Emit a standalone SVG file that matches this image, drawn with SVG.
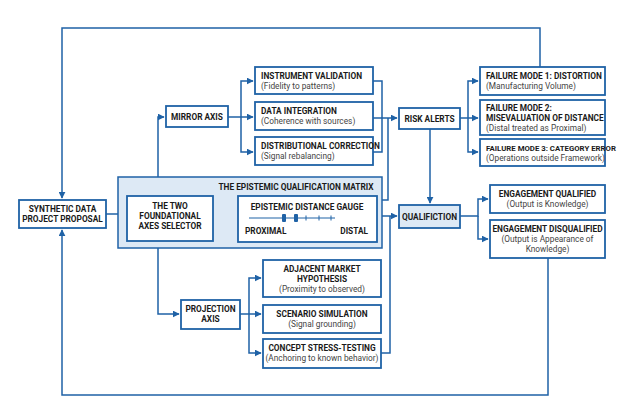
<svg xmlns="http://www.w3.org/2000/svg" width="624" height="419" viewBox="0 0 624 419">
<style>
.b{fill:#fff;stroke:#1f62a6;stroke-width:1.8}
.m{fill:#dde9f5;stroke:#1f62a6;stroke-width:1.5}
.c{fill:none;stroke:#1f62a6;stroke-width:1.5}
.t{font-family:Roboto,"Liberation Sans",sans-serif;font-weight:bold;font-size:8.3px;fill:#1a1a1a}
.s{font-family:Roboto,"Liberation Sans",sans-serif;font-size:8.3px;fill:#444}
.mid{text-anchor:middle}
</style>
<defs><marker id="a" viewBox="0 0 10 10" refX="9" refY="5" markerWidth="7" markerHeight="7" orient="auto" markerUnits="userSpaceOnUse"><path d="M0,0L10,5L0,10z" fill="#1f62a6"/></marker></defs>
<rect width="624" height="419" fill="#fff"/>
<g id="connectors" class="c">
<path d="M540,67V28H62V198" marker-end="url(#a)"/>
<path d="M548,258V395H62V230" marker-end="url(#a)"/>
<path d="M106,214H125" marker-end="url(#a)"/>
<path d="M213,218H236" marker-end="url(#a)"/>
<path d="M158,196V117H164" marker-end="url(#a)"/>
<path d="M158,241V314H179" marker-end="url(#a)"/>
<path d="M228,117H253" marker-end="url(#a)"/>
<path d="M241,117V81H253" marker-end="url(#a)"/>
<path d="M241,117V152H253" marker-end="url(#a)"/>
<path d="M373,81H382V152H373"/>
<path d="M373,118H397" marker-end="url(#a)"/>
<path d="M377,200H388V118"/>
<path d="M377,216H397" marker-end="url(#a)"/>
<path d="M381,353H390V216"/>
<path d="M240,314H261" marker-end="url(#a)"/>
<path d="M249,314V278H261" marker-end="url(#a)"/>
<path d="M249,314V353H261" marker-end="url(#a)"/>
<path d="M430,129V203" marker-end="url(#a)"/>
<path d="M460,118H478" marker-end="url(#a)"/>
<path d="M468,118V81H478" marker-end="url(#a)"/>
<path d="M468,118V152H478" marker-end="url(#a)"/>
<path d="M460,216H478V199H488" marker-end="url(#a)"/>
<path d="M478,216V239H488" marker-end="url(#a)"/>
</g>
<g id="matrix"><rect class="m" x="118" y="177" width="264" height="71"/><text class="t mid" x="296" y="190">THE EPISTEMIC QUALIFICATION MATRIX</text></g>
<g id="proposal"><rect class="b" x="19" y="200" width="87" height="28"/><text class="t mid" x="62.5" y="212">SYNTHETIC DATA</text><text class="t mid" x="62.5" y="222">PROJECT PROPOSAL</text></g>
<g id="selector"><rect class="b" x="127" y="196" width="86" height="45"/><text class="t mid" x="170" y="209">THE TWO</text><text class="t mid" x="170" y="219">FOUNDATIONAL</text><text class="t mid" x="170" y="229">AXES SELECTOR</text></g>
<g id="gauge"><rect class="b" x="238" y="196" width="139" height="46"/><text class="t mid" x="307" y="210">EPISTEMIC DISTANCE GAUGE</text>
<path d="M249,218H335M306,215.5v5M319,215.5v5M331,215.5v5" stroke="#1f62a6" stroke-width="1"/>
<rect x="282" y="214" width="4" height="8" rx="1" fill="#1f62a6"/><rect x="294" y="214" width="4" height="8" rx="1" fill="#1f62a6"/>
<text class="t" x="245" y="234">PROXIMAL</text><text class="t" x="368" y="234" text-anchor="end">DISTAL</text></g>
<g id="mirror"><rect class="b" x="166" y="106" width="62" height="21"/><text class="t mid" x="197" y="120">MIRROR AXIS</text></g>
<g id="iv"><rect class="b" x="255" y="67" width="118" height="27"/><text class="t" x="261" y="79">INSTRUMENT VALIDATION</text><text class="s" x="261" y="89">(Fidelity to patterns)</text></g>
<g id="di"><rect class="b" x="255" y="102" width="118" height="28"/><text class="t" x="261" y="114">DATA INTEGRATION</text><text class="s" x="261" y="124">(Coherence with sources)</text></g>
<g id="dc"><rect class="b" x="255" y="137" width="118" height="28"/><text class="t" x="261" y="149">DISTRIBUTIONAL CORRECTION</text><text class="s" x="261" y="159">(Signal rebalancing)</text></g>
<g id="risk"><rect class="b" x="399" y="108" width="61" height="21"/><text class="t mid" x="429.5" y="122">RISK ALERTS</text></g>
<g id="qual"><rect class="m" x="399" y="205" width="61" height="23" style="stroke-width:1.8"/><text class="t mid" x="429.5" y="220">QUALIFICTION</text></g>
<g id="fm1"><rect class="b" x="480" y="67" width="125" height="28"/><text class="t" x="486" y="79">FAILURE MODE 1: DISTORTION</text><text class="s" x="486" y="89">(Manufacturing Volume)</text></g>
<g id="fm2"><rect class="b" x="480" y="100" width="125" height="35"/><text class="t" x="486" y="111">FAILURE MODE 2:</text><text class="t" x="486" y="121">MISEVALUATION OF DISTANCE</text><text class="s" x="486" y="131">(Distal treated as Proximal)</text></g>
<g id="fm3"><rect class="b" x="480" y="139" width="125" height="27"/><text class="t" x="486" y="151" style="font-size:7.8px">FAILURE MODE 3: CATEGORY ERROR</text><text class="s" x="486" y="161">(Operations outside Framework)</text></g>
<g id="eq"><rect class="b" x="490" y="185" width="115" height="28"/><text class="t mid" x="547.5" y="197">ENGAGEMENT QUALIFIED</text><text class="s mid" x="547.5" y="207">(Output is Knowledge)</text></g>
<g id="ed"><rect class="b" x="490" y="220" width="115" height="38"/><text class="t mid" x="547.5" y="232">ENGAGEMENT DISQUALIFIED</text><text class="s mid" x="547.5" y="242">(Output is Appearance of</text><text class="s mid" x="547.5" y="252">Knowledge)</text></g>
<g id="proj"><rect class="b" x="181" y="300" width="59" height="29"/><text class="t mid" x="210.5" y="312">PROJECTION</text><text class="t mid" x="210.5" y="322">AXIS</text></g>
<g id="amh"><rect class="b" x="263" y="260" width="118" height="37"/><text class="t mid" x="322" y="272">ADJACENT MARKET</text><text class="t mid" x="322" y="282">HYPOTHESIS</text><text class="s mid" x="322" y="292">(Proximity to observed)</text></g>
<g id="ss"><rect class="b" x="263" y="305" width="118" height="28"/><text class="t mid" x="322" y="317">SCENARIO SIMULATION</text><text class="s mid" x="322" y="327">(Signal grounding)</text></g>
<g id="cst"><rect class="b" x="263" y="339" width="118" height="29"/><text class="t mid" x="322" y="351">CONCEPT STRESS-TESTING</text><text class="s mid" x="322" y="361">(Anchoring to known behavior)</text></g>
</svg>
